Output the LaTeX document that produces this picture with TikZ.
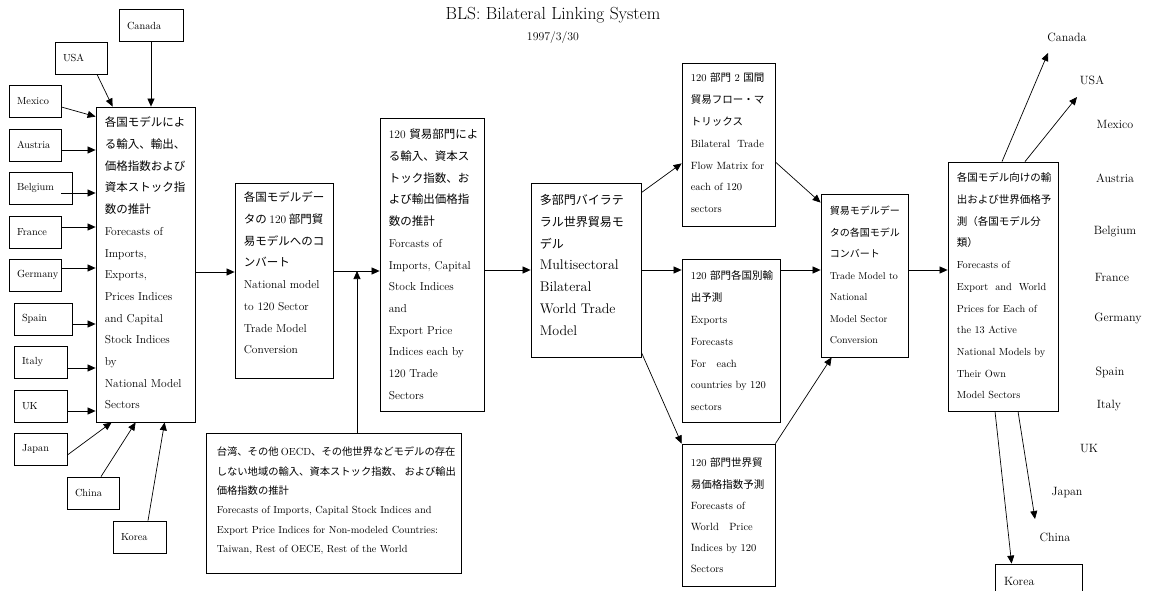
\documentclass[tikz,border=0pt]{standalone}
\usepackage{fontspec}
\newfontfamily\jp{Noto Sans CJK JP}
\usetikzlibrary{arrows.meta}
\begin{document}
\begin{tikzpicture}[x=1pt,y=-1pt,
  box/.style={draw, line width=0.8pt, inner sep=0pt},
  cbox/.style={draw, line width=0.8pt, font=\fontsize{10.3}{12}\selectfont, align=left, inner xsep=8pt, inner ysep=0pt, minimum height=32pt},
  rbox/.style={draw, line width=0.8pt, font=\fontsize{12}{14}\selectfont, align=left, inner xsep=9pt, inner ysep=0pt},
  txt/.style={anchor=north west, inner sep=0pt, align=left},
  arr/.style={-{Triangle[length=8pt,width=7pt]}, line width=0.7pt},
  lab/.style={font=\fontsize{12}{14}\selectfont, inner sep=0pt}
]
\useasboundingbox (0,0) rectangle (1151,591);

% title
\node[font=\fontsize{17.5}{20}\selectfont, inner sep=0pt] (title) at (553,15) {BLS: Bilateral Linking System};
\node[font=\fontsize{11.8}{13}\selectfont, inner sep=0pt] (date) at (553,38) {1997/3/30};

% left country boxes
\node[cbox, text width=48pt] (canada) at (151,25.5) {Canada};
\node[cbox, text width=36pt] (usa) at (81,58) {USA};
\node[cbox, text width=36pt] (mexico) at (35,101) {Mexico};
\node[cbox, text width=36pt] (austria) at (35,145) {Austria};
\node[cbox, text width=47pt] (belgium) at (40.5,188) {Belgium};
\node[cbox, text width=36pt] (france) at (35,232) {France};
\node[cbox, text width=36pt] (germany) at (35,275) {Germany};
\node[cbox, text width=42pt] (spain) at (43,319) {Spain};
\node[cbox, text width=37pt] (italy) at (40.5,362) {Italy};
\node[cbox, text width=37pt] (uk) at (40.5,406) {UK};
\node[cbox, text width=37pt] (japan) at (40.5,449) {Japan};
\node[cbox, text width=36pt] (china) at (93,493) {China};
\node[cbox, text width=37pt] (korea) at (139.5,537) {Korea};

% main boxes
\node[box, minimum width=99pt, minimum height=315pt] (b1) at (145.5,264.5) {};
\node[box, minimum width=98pt, minimum height=195pt] (b2) at (284,280.5) {};
\node[box, minimum width=104pt, minimum height=293pt] (b3) at (432,264.5) {};
\node[box, minimum width=110pt, minimum height=174pt] (b4) at (586,270) {};
\node[box, minimum width=93pt, minimum height=163pt] (b5) at (728.5,144.5) {};
\node[box, minimum width=98pt, minimum height=163pt] (b6) at (731,340.5) {};
\node[box, minimum width=93pt, minimum height=142pt] (b7) at (728.5,515) {};
\node[box, minimum width=87pt, minimum height=163pt] (b8) at (864.5,275.5) {};
\node[box, minimum width=110pt, minimum height=249pt] (b9) at (1003,286.5) {};
\node[box, minimum width=255pt, minimum height=140pt] (tw) at (333.5,503) {};
\node[rbox, minimum width=87pt, minimum height=34pt, text width=69pt] (koreaR) at (1038.5,581) {Korea};

% box texts
\node[txt, font=\fontsize{11.5}{21.7}\selectfont] (t1) at ([xshift=9pt,yshift=-8pt]b1.north west)
 {\rule{0pt}{12pt}\jp 各国モデルによ\\ \jp る輸入、輸出、\\ \jp 価格指数および\\ \jp 資本ストック指\\ \jp 数の推計\\
  Forecasts of\\ Imports,\\ Exports,\\ Prices Indices\\ and Capital\\ Stock Indices\\ by\\ National Model\\ Sectors};
\node[txt, font=\fontsize{11.5}{21.7}\selectfont] (t2) at ([xshift=9pt,yshift=-7pt]b2.north west)
 {\rule{0pt}{12pt}\jp 各国モデルデー\\ \jp タの {\normalfont 120} 部門貿\\ \jp 易モデルへのコ\\ \jp ンバート\\
  National model\\ to 120 Sector\\ Trade Model\\ Conversion};
\node[txt, font=\fontsize{11.5}{21.7}\selectfont] (t3) at ([xshift=9pt,yshift=-9pt]b3.north west)
 {\rule{0pt}{12pt}120 {\jp 貿易部門によ}\\ \jp る輸入、資本ス\\ \jp トック指数、お\\ \jp よび輸出価格指\\ \jp 数の推計\\
  Forcasts of\\ Imports, Capital\\ Stock Indices\\ and\\ Export Price\\ Indices each by\\ 120 Trade\\ Sectors};
\node[txt, font=\fontsize{14}{21.7}\selectfont] (t4) at ([xshift=9pt,yshift=-10pt]b4.north west)
 {\rule{0pt}{12pt}\jp\fontsize{12}{21.7}\selectfont 多部門バイラテ\\ \jp\fontsize{12}{21.7}\selectfont ラル世界貿易モ\\ \jp\fontsize{12}{21.7}\selectfont デル\\
  Multisectoral\\ Bilateral\\ World Trade\\ Model};
\node[txt, font=\fontsize{10.5}{21.8}\selectfont] (t5) at ([xshift=9pt,yshift=-7pt]b5.north west)
 {\rule{0pt}{12pt}120 {\jp 部門} 2 {\jp 国間}\\ \jp 貿易フロー・マ\\ \jp トリックス\\
  Bilateral\ \ Trade\\ Flow Matrix for\\ each of 120\\ sectors};
\node[txt, font=\fontsize{10.5}{21.8}\selectfont] (t6) at ([xshift=9pt,yshift=-9pt]b6.north west)
 {\rule{0pt}{12pt}120 {\jp 部門各国別輸}\\ \jp 出予測\\
  Exports\\ Forecasts\\ For\ \ \ each\\ countries by 120\\ sectors};
\node[txt, font=\fontsize{10.5}{21.2}\selectfont] (t7) at ([xshift=9pt,yshift=-11pt]b7.north west)
 {\rule{0pt}{12pt}120 {\jp 部門世界貿}\\ \jp 易価格指数予測\\
  Forecasts of\\ World\ \ \ Price\\ Indices by 120\\ Sectors};
\node[txt, font=\fontsize{10}{21.5}\selectfont] (t8) at ([xshift=9pt,yshift=-9pt]b8.north west)
 {\rule{0pt}{12pt}\jp 貿易モデルデー\\ \jp タの各国モデル\\ \jp コンバート\\
  Trade Model to\\ National\\ Model Sector\\ Conversion};
\node[txt, font=\fontsize{10.3}{21.7}\selectfont] (t9) at ([xshift=9pt,yshift=-8pt]b9.north west)
 {\rule{0pt}{12pt}\jp\fontsize{10.5}{21.7}\selectfont 各国モデル向けの輸\\ \jp\fontsize{10.5}{21.7}\selectfont 出および世界価格予\\ \jp\fontsize{10.5}{21.7}\selectfont 測（各国モデル分\\ \jp\fontsize{10.5}{21.7}\selectfont 類）\\
  Forecasts of\\ Export\ \ and\ \ World\\ Prices\ for\ Each\ of\\ the 13 Active\\ National Models by\\ Their Own\\ Model Sectors};
\node[txt, font=\fontsize{10.3}{19.3}\selectfont] (ttw) at ([xshift=11pt,yshift=-11pt]tw.north west)
 {\rule{0pt}{12pt}\jp 台湾、その他 {\normalfont OECD}、その他世界などモデルの存在\\ \jp しない地域の輸入、資本ストック指数、 および輸出\\ \jp 価格指数の推計\\
  Forecasts of Imports, Capital Stock Indices and\\ Export Price Indices for Non-modeled Countries:\\ Taiwan, Rest of OECE, Rest of the World};

% right labels
\node[lab] (rCanada) at (1067,37) {Canada};
\node[lab] (rUSA) at (1092,80) {USA};
\node[lab] (rMexico) at (1115,124) {Mexico};
\node[lab] (rAustria) at (1115,178) {Austria};
\node[lab] (rBelgium) at (1115,232) {Belgium};
\node[lab] (rFrance) at (1112,277) {France};
\node[lab] (rGermany) at (1118,318) {Germany};
\node[lab] (rSpain) at (1110,372) {Spain};
\node[lab] (rItaly) at (1109,406) {Italy};
\node[lab] (rUK) at (1089,449) {UK};
\node[lab] (rJapan) at (1067,493) {Japan};
\node[lab] (rChina) at (1055,537) {China};

% left arrows
\draw[arr] (canada.south) -- (canada.south |- b1.north);
\draw[arr] ([xshift=16pt]usa.south) -- ([xshift=17pt]b1.north west);
\draw[arr] ([yshift=-6pt]mexico.east) -- ([yshift=-10pt]b1.north west);
\coordinate (aAu) at ([yshift=-5pt]austria.east);
\draw[arr] (aAu) -- (aAu -| b1.west);
\coordinate (aBe) at ([xshift=-11pt,yshift=-5pt]belgium.east);
\draw[arr] (aBe) -- (aBe -| b1.west);
\coordinate (aFr) at ([yshift=5pt]france.east);
\draw[arr] (aFr) -- (aFr -| b1.west);
\coordinate (aGe) at ([yshift=7pt]germany.east);
\draw[arr] (aGe) -- (aGe -| b1.west);
\coordinate (aSp) at ([yshift=-5pt]spain.east);
\draw[arr] (aSp) -- (aSp -| b1.west);
\coordinate (aIt) at ([yshift=-6pt]italy.east);
\draw[arr] (aIt) -- (aIt -| b1.west);
\coordinate (aUK) at ([yshift=-5pt]uk.east);
\draw[arr] (aUK) -- (aUK -| b1.west);
\draw[arr] ([yshift=-6pt]japan.east) -- ([xshift=16pt]b1.south west);
\draw[arr] ([xshift=8pt]china.north) -- ([xshift=40pt]b1.south west);
\draw[arr] ([xshift=8.5pt]korea.north) -- ([xshift=69pt]b1.south west);

% main flow
\coordinate (a12) at ([yshift=-7.5pt]b1.east);
\draw[arr] (a12) -- (a12 -| b2.west);
\coordinate (a23) at ([yshift=9.5pt]b2.east);
\draw[arr] (a23) -- (a23 -| b3.west);
\coordinate (twt) at ([xshift=23.5pt]tw.north);
\draw[arr] (twt) -- (twt |- a23);
\coordinate (a34) at ([yshift=-5.5pt]b3.east);
\draw[arr] (a34) -- (a34 -| b4.west);
\draw[arr] (b4.east) -- (b4.east -| b6.west);
\draw[arr] ([yshift=-10pt]b4.north east) -- ([yshift=63pt]b5.south west);
\draw[arr] ([yshift=5pt]b4.south east) -- (b7.north west);
\draw[arr] ([yshift=-17.5pt]b5.east) -- ([yshift=-9pt]b8.north west);
\coordinate (a68) at ([yshift=5.5pt]b8.west);
\draw[arr] (a68 -| b6.east) -- (a68);
\draw[arr] (b7.north east) -- ([xshift=11pt]b8.south west);
\coordinate (a89) at ([yshift=5.5pt]b8.east);
\draw[arr] (a89) -- (a89 -| b9.west);

% right arrows
\coordinate (eCan) at (1048,53);
\draw[arr] ([xshift=-1pt]b9.north) -- (eCan);
\coordinate (eUSA) at (1077,97);
\draw[arr] ([xshift=22pt]b9.north) -- (eUSA);
\coordinate (eChina) at (1035,519);
\draw[arr] ([xshift=15pt]b9.south) -- (eChina);
\draw[arr] ([xshift=-8pt]b9.south) -- ([xshift=17pt]koreaR.north west);
\end{tikzpicture}
\end{document}
